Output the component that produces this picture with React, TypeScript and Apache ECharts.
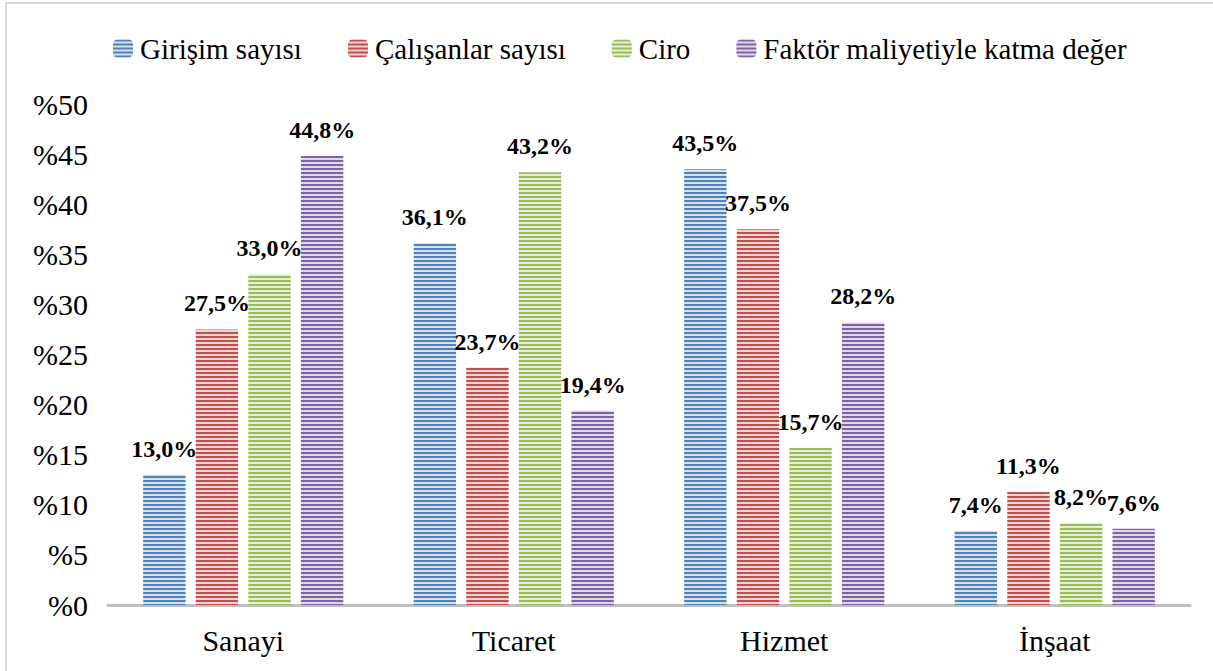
import React, { useEffect, useRef } from "react";
import * as echarts from "echarts";

const categories = ["Sanayi", "Ticaret", "Hizmet", "İnşaat"];
const seriesNames = ["Girişim sayısı", "Çalışanlar sayısı", "Ciro", "Faktör maliyetiyle katma değer"];
const girisim = [13.0, 36.1, 43.5, 7.4];
const calisanlar = [27.5, 23.7, 37.5, 11.3];
const ciro = [33.0, 43.2, 15.7, 8.2];
const faktor = [44.8, 19.4, 28.2, 7.6];
const colors = ["#4F81BD", "#C0504D", "#9BBB59", "#8064A2"];
const lightColors = ["#D6E1F0", "#F0D5D4", "#E6EED5", "#DFD7EA"];

function makePattern(dark: string, light: string) {
  const c = document.createElement("canvas");
  c.width = 4;
  c.height = 4;
  const ctx = c.getContext("2d")!;
  ctx.fillStyle = light;
  ctx.fillRect(0, 0, 4, 4);
  ctx.fillStyle = dark;
  ctx.fillRect(0, 0, 4, 2);
  return { image: c, repeat: "repeat" };
}

export default function App() {
  const ref = useRef<HTMLDivElement>(null);
  useEffect(() => {
    if (!ref.current) return;
    const chart = echarts.init(ref.current, null, { renderer: "svg" });
    const data = [girisim, calisanlar, ciro, faktor];
    const font = "Liberation Serif";
    chart.setOption({
      animation: false,
      backgroundColor: "#ffffff",
      textStyle: { fontFamily: font },
      graphic: [
        {
          type: "rect",
          shape: { x: 6, y: 3, width: 1220, height: 680 },
          style: { fill: "none", stroke: "#D9D9D9", lineWidth: 2 },
          silent: true,
        },
      ],
      legend: {
        top: 29,
        left: 108,
        itemWidth: 20,
        itemHeight: 18,
        itemGap: 46,
        data: seriesNames,
        textStyle: { fontSize: 29, color: "#000", fontFamily: font, padding: [0, 0, 0, 2] },
      },
      grid: { left: 108, right: 23, top: 104, bottom: 66 },
      xAxis: {
        type: "category",
        data: categories,
        axisLine: { show: true, lineStyle: { color: "#BFBFBF", width: 3 } },
        axisTick: { show: false },
        axisLabel: { fontSize: 30, color: "#000", margin: 20, fontFamily: font },
      },
      yAxis: {
        type: "value",
        min: 0,
        max: 50,
        interval: 5,
        axisLine: { show: false },
        axisTick: { show: false },
        splitLine: { show: false },
        axisLabel: {
          fontSize: 30,
          color: "#000",
          margin: 20,
          fontFamily: font,
          formatter: (v: number) => "%" + v,
        },
      },
      series: data.map((d, i) => ({
        name: seriesNames[i],
        type: "bar",
        data: d,
        barGap: "24%",
        barCategoryGap: "26%",
        itemStyle: { color: makePattern(colors[i], lightColors[i]) },
        label: {
          show: true,
          position: "top",
          distance: 14,
          fontSize: 24,
          fontWeight: "bold",
          color: "#000",
          fontFamily: font,
          formatter: (p: any) => p.value.toFixed(1).replace(".", ",") + "%",
        },
      })),
    });
    return () => chart.dispose();
  }, []);
  return (
    <div
      ref={ref}
      style={{ position: "absolute", left: 0, top: 0, width: 1213, height: 671 }}
    />
  );
}
